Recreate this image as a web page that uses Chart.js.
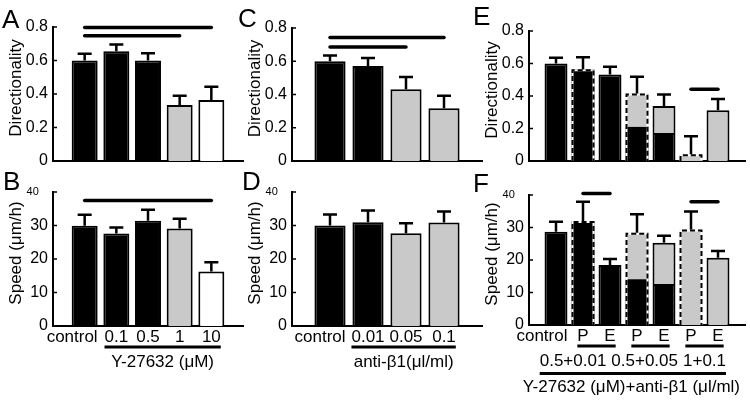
<!DOCTYPE html>
<html>
<head>
<meta charset="utf-8">
<script src="https://cdn.jsdelivr.net/npm/chart.js@4"></script>
<style>
  html, body { margin: 0; padding: 0; background: #fff; }
  #wrap { position: relative; width: 750px; height: 403px; }
  #wrap canvas { position: absolute; left: 0; top: 0; }
</style>
</head>
<body>
<div id="wrap">
  <canvas id="panelA" width="750" height="403"></canvas>
  <canvas id="panelB" width="750" height="403"></canvas>
  <canvas id="panelC" width="750" height="403"></canvas>
  <canvas id="panelD" width="750" height="403"></canvas>
  <canvas id="panelE" width="750" height="403"></canvas>
  <canvas id="panelF" width="750" height="403"></canvas>
</div>
<script>
// Y-27632 doses (A, B)
const rockLabels = ['control', '0.1', '0.5', '1', '10'];
const rockDir = [0.60, 0.655, 0.60, 0.334, 0.364];
const rockDirErr = [0.64, 0.695, 0.643, 0.39, 0.444];
const rockSpeed = [29.9, 27.6, 31.4, 29.1, 16.3];
const rockSpeedErr = [33.2, 29.4, 34.7, 32.0, 19.0];

// anti-beta1 doses (C, D)
const abLabels = ['control', '0.01', '0.05', '0.1'];
const abDir = [0.60, 0.572, 0.431, 0.317];
const abDirErr = [0.634, 0.619, 0.506, 0.393];
const abSpeed = [30.0, 31.0, 27.7, 30.9];
const abSpeedErr = [33.3, 34.5, 30.7, 34.2];

// combinations (E, F): total bar height and the black part of it
const comboLabels = ['control', 'P', 'E', 'P', 'E', 'P', 'E'];
const comboGroups = ['0.5+0.01', '0.5+0.05', '1+0.1'];
const comboDirTotal = [0.60, 0.565, 0.533, 0.416, 0.339, 0.041, 0.313];
const comboDirBlack = [0.60, 0.565, 0.533, 0.21, 0.173, 0, 0];
const comboDirErr = [0.635, 0.638, 0.58, 0.518, 0.41, 0.152, 0.381];
const comboSpeedTotal = [28.7, 32.0, 18.5, 28.4, 25.3, 29.4, 20.7];
const comboSpeedBlack = [28.7, 32.0, 18.5, 14.1, 12.6, 0, 0];
const comboSpeedErr = [31.8, 37.9, 20.3, 34.1, 27.5, 34.9, 22.8];

// significance bars: [from bar, to bar, height]
const sigA = [[0, 4, 0.797], [0, 3, 0.748]];
const sigB = [[0, 4, 37.5]];
const sigC = [[0, 3, 0.743], [0, 2, 0.685]];
const sigE = [[5, 6, 0.442]];
const sigF = [[1, 2, 40.5], [5, 6, 37.9]];

const FONT = '"Liberation Sans", Arial, Helvetica, sans-serif';
const GREY = '#c9c9c9';
const rockFills = ['#000', '#000', '#000', GREY, '#fff'];
const abFills = ['#000', '#000', GREY, GREY];
const Y_BOX = 48;   // room kept for y tick labels

const panelExtras = {
  id: 'panelExtras',
  afterDraw(chart, args, o) {
    const ctx = chart.ctx, xs = chart.scales.x, ys = chart.scales.y, area = chart.chartArea;
    const cx = i => xs.getPixelForValue(i + 1);
    const bw = chart.getDatasetMeta(0).data[1].width;
    const n = o.labels.length;
    ctx.save();

    // dashed outline for P bars
    if (o.black) {
      for (let i = 0; i < n; i++) {
        if (o.labels[i] !== 'P') continue;
        const x0 = cx(i) - bw / 2 + 1, x1 = cx(i) + bw / 2 - 1;
        const yt = ys.getPixelForValue(o.total[i]) + 1, yb = ys.getPixelForValue(0);
        ctx.beginPath();
        ctx.moveTo(x0, yb); ctx.lineTo(x0, yt); ctx.lineTo(x1, yt); ctx.lineTo(x1, yb);
        ctx.lineWidth = 2;
        ctx.strokeStyle = '#fff';
        ctx.setLineDash([]);
        ctx.stroke();
        ctx.strokeStyle = '#000';
        ctx.setLineDash([5, 3]);
        ctx.stroke();
      }
      ctx.setLineDash([]);
    }

    // error bars (upper only)
    ctx.strokeStyle = '#000';
    ctx.lineWidth = 2.5;
    ctx.lineCap = 'butt';
    for (let i = 0; i < n; i++) {
      const x = cx(i);
      const y0 = ys.getPixelForValue(o.total[i]), y1 = ys.getPixelForValue(o.err[i]);
      ctx.beginPath();
      ctx.moveTo(x, y0); ctx.lineTo(x, y1);
      ctx.moveTo(x - 7, y1); ctx.lineTo(x + 7, y1);
      ctx.stroke();
    }

    // significance bars
    ctx.lineWidth = 3.5;
    ctx.lineCap = 'round';
    o.sig.forEach(([a, b, v]) => {
      const y = ys.getPixelForValue(v);
      ctx.beginPath();
      ctx.moveTo(cx(a), y); ctx.lineTo(cx(b), y);
      ctx.stroke();
    });
    ctx.lineCap = 'butt';

    // small inward ticks on the y axis
    ctx.lineWidth = 1.5;
    ys.ticks.forEach(t => {
      const y = ys.getPixelForValue(t.value);
      ctx.beginPath();
      ctx.moveTo(area.left, y); ctx.lineTo(area.left + 4, y);
      ctx.stroke();
    });

    ctx.fillStyle = '#000';
    // panel letter
    ctx.font = '26px ' + FONT;
    ctx.textAlign = 'left';
    ctx.textBaseline = 'alphabetic';
    ctx.fillText(o.letter, o.letterAt[0], o.letterAt[1]);

    // y axis title
    ctx.save();
    ctx.translate(area.left - 37, (area.top + area.bottom) / 2 - 6);
    ctx.rotate(-Math.PI / 2);
    ctx.font = '17px ' + FONT;
    ctx.textAlign = 'center';
    ctx.textBaseline = 'middle';
    ctx.fillText(o.yTitle, 0, 0);
    ctx.restore();

    if (!o.showX) { ctx.restore(); return; }

    // category labels
    ctx.font = '17px ' + FONT;
    ctx.textBaseline = 'middle';
    const rects = o.labels.map((lab, i) => {
      const w = ctx.measureText(lab).width;
      let left;
      if (i === 0) left = cx(i) + bw / 2 - w;
      else left = cx(i) - w / 2;
      ctx.textAlign = 'left';
      ctx.fillText(lab, left, area.bottom + 11.5);
      return { left, right: left + w };
    });

    const hline = (x0, x1, y) => {
      ctx.lineWidth = 3;
      ctx.beginPath();
      ctx.moveTo(x0, y); ctx.lineTo(x1, y);
      ctx.stroke();
    };

    if (o.groupTitle && !o.pairs) {
      const x0 = rects[1].left, x1 = rects[n - 1].right;
      hline(x0, x1, area.bottom + 21);
      ctx.textAlign = 'center';
      ctx.fillText(o.groupTitle, (x0 + x1) / 2, area.bottom + 36);
    }

    if (o.pairs) {
      o.pairs.forEach(([a, b]) => hline(rects[a].left, rects[b].right, area.bottom + 21));
      // group labels, pushed left if they collide
      const g = o.pairs.map(([a, b], k) => {
        const w = ctx.measureText(o.groups[k]).width;
        const c = (cx(a) + cx(b)) / 2;
        return { text: o.groups[k], left: c - w / 2, w };
      });
      for (let k = g.length - 2; k >= 0; k--) {
        const lim = g[k + 1].left - 5;
        if (g[k].left + g[k].w > lim) g[k].left = lim - g[k].w;
      }
      ctx.textAlign = 'left';
      g.forEach(it => ctx.fillText(it.text, it.left, area.bottom + 36));
      const x0 = g[0].left, x1 = g[g.length - 1].left + g[g.length - 1].w;
      hline(x0, x1, area.bottom + 48.5);
      const tw = ctx.measureText(o.groupTitle).width;
      const tc = Math.min((x0 + x1) / 2, chart.width - 10 - tw / 2);
      ctx.textAlign = 'center';
      ctx.fillText(o.groupTitle, tc, area.bottom + 62);
    }
    ctx.restore();
  }
};

function padArr(a) { return [null, ...a, null]; }

function makePanel(p) {
  const cats = ['', ...p.labels, ''];
  let datasets;
  if (p.black) {
    const isP = c => p.labels[c.dataIndex - 1] === 'P';
    const base = p.black.map(v => (v > 0 ? v : null));
    const upper = p.total.map((t, i) => (t - p.black[i] > 0.0001 ? t - p.black[i] : null));
    datasets = [
      { data: padArr(base), backgroundColor: '#000', borderColor: '#000', borderWidth: c => (isP(c) ? 0 : 2) },
      { data: padArr(upper), backgroundColor: GREY, borderColor: '#000', borderWidth: c => (isP(c) ? 0 : 2) }
    ];
  } else {
    datasets = [{ data: padArr(p.total), backgroundColor: padArr(p.fills), borderColor: '#000', borderWidth: 2 }];
  }
  const isDir = p.max < 1;
  return new Chart(document.getElementById(p.id), {
    type: 'bar',
    data: { labels: cats, datasets },
    plugins: [panelExtras],
    options: {
      responsive: false,
      animation: false,
      events: [],
      categoryPercentage: 1,
      barPercentage: p.barPct,
      layout: {
        padding: { left: p.area.left - Y_BOX, top: p.area.top, right: 750 - p.area.right, bottom: 403 - p.area.bottom }
      },
      plugins: {
        legend: { display: false },
        tooltip: { enabled: false },
        panelExtras: p
      },
      scales: {
        x: {
          type: 'category',
          offset: false,
          stacked: !!p.black,
          grid: { display: false, offset: false, drawTicks: false },
          ticks: { display: false },
          border: { color: '#000', width: 2 },
          afterFit: s => { s.height = 0; }
        },
        y: {
          min: 0,
          max: p.max,
          stacked: !!p.black,
          grid: { display: false, drawTicks: false, tickLength: 0 },
          border: { color: '#000', width: 2 },
          ticks: {
            stepSize: p.max / 4,
            color: '#000',
            padding: 5,
            font: c => ({ family: FONT, size: (c.tick && c.tick.value === 40) ? 11 : 16 }),
            callback: v => (isDir ? (v === 0 ? '0' : v.toFixed(1)) : (v === 40 ? '40   ' : String(v)))
          },
          afterFit: s => { s.width = Y_BOX; }
        }
      }
    }
  });
}

makePanel({ id: 'panelA', letter: 'A', letterAt: [2, 28], yTitle: 'Directionality',
  area: { left: 53, top: 27, right: 243, bottom: 161 }, max: 0.8, barPct: 0.82,
  labels: rockLabels, total: rockDir, err: rockDirErr, fills: rockFills, sig: sigA, showX: false });

makePanel({ id: 'panelB', letter: 'B', letterAt: [3, 190], yTitle: 'Speed (μm/h)',
  area: { left: 53, top: 192, right: 243, bottom: 326 }, max: 40, barPct: 0.82,
  labels: rockLabels, total: rockSpeed, err: rockSpeedErr, fills: rockFills, sig: sigB, showX: true,
  groupTitle: 'Y-27632 (μM)' });

makePanel({ id: 'panelC', letter: 'C', letterAt: [238, 27], yTitle: 'Directionality',
  area: { left: 292, top: 28, right: 482, bottom: 161 }, max: 0.8, barPct: 0.82,
  labels: abLabels, total: abDir, err: abDirErr, fills: abFills, sig: sigC, showX: false });

makePanel({ id: 'panelD', letter: 'D', letterAt: [242, 190], yTitle: 'Speed (μm/h)',
  area: { left: 292, top: 192, right: 482, bottom: 326 }, max: 40, barPct: 0.82,
  labels: abLabels, total: abSpeed, err: abSpeedErr, fills: abFills, sig: [], showX: true,
  groupTitle: 'anti-β1(μl/ml)' });

makePanel({ id: 'panelE', letter: 'E', letterAt: [473, 25], yTitle: 'Directionality',
  area: { left: 529, top: 31, right: 745, bottom: 161 }, max: 0.8, barPct: 0.85,
  labels: comboLabels, total: comboDirTotal, black: comboDirBlack, err: comboDirErr, sig: sigE, showX: false });

makePanel({ id: 'panelF', letter: 'F', letterAt: [473, 192], yTitle: 'Speed (μm/h)',
  area: { left: 529, top: 195, right: 745, bottom: 325 }, max: 40, barPct: 0.85,
  labels: comboLabels, total: comboSpeedTotal, black: comboSpeedBlack, err: comboSpeedErr, sig: sigF, showX: true,
  pairs: [[1, 2], [3, 4], [5, 6]], groups: comboGroups, groupTitle: 'Y-27632 (μM)+anti-β1 (μl/ml)' });
</script>
</body>
</html>
